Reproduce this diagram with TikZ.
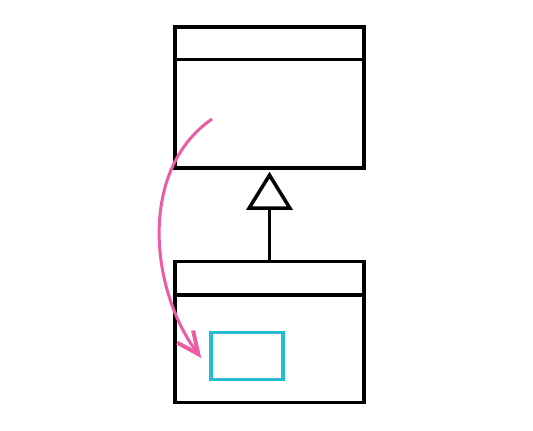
\documentclass[tikz,border=0pt]{standalone}
\usepackage{tikz}
\usetikzlibrary{positioning}
\usetikzlibrary{calc}
\usetikzlibrary{arrows.meta}
\definecolor{pink1}{RGB}{236,92,164}
\definecolor{cyan1}{RGB}{38,190,206}

\begin{document}
\begin{tikzpicture}[x=1pt, y=-1pt, class/.style={draw, line width=3.5pt, minimum width=189pt, minimum height=141pt, inner sep=0pt}, field/.style={draw=cyan1, line width=3.5pt, minimum width=72pt, minimum height=47pt, inner sep=0pt}]
            \useasboundingbox (0,0) rectangle (533,431);
            \node[class] (parent) at (269.5,97.5) {};
            \node[class] (child) at (269.5,332) {};
            \node[field] (member) at (247,356) {};
            \coordinate (start) at (212,119);
    
            \draw[line width=3.5pt] ($(parent.north west)+(0,34)$) -- ($(parent.north east)+(0,34)$);
            \draw[line width=3.5pt] ($(child.north west)+(0,35)$) -- ($(child.north east)+(0,35)$);
            \draw[-{Triangle[open, width=46pt, length=38pt, line width=3.5pt]}, line width=3.5pt, shorten >=2pt] (child) -- (parent);
            \draw[-{Straight Barb[length=22pt, width=20pt, line width=4pt]}, pink1, line width=3pt] (start) .. controls (138,170) and (150,290) .. ($(member.west)+(-8,2)$);
        \end{tikzpicture}
\end{document}
